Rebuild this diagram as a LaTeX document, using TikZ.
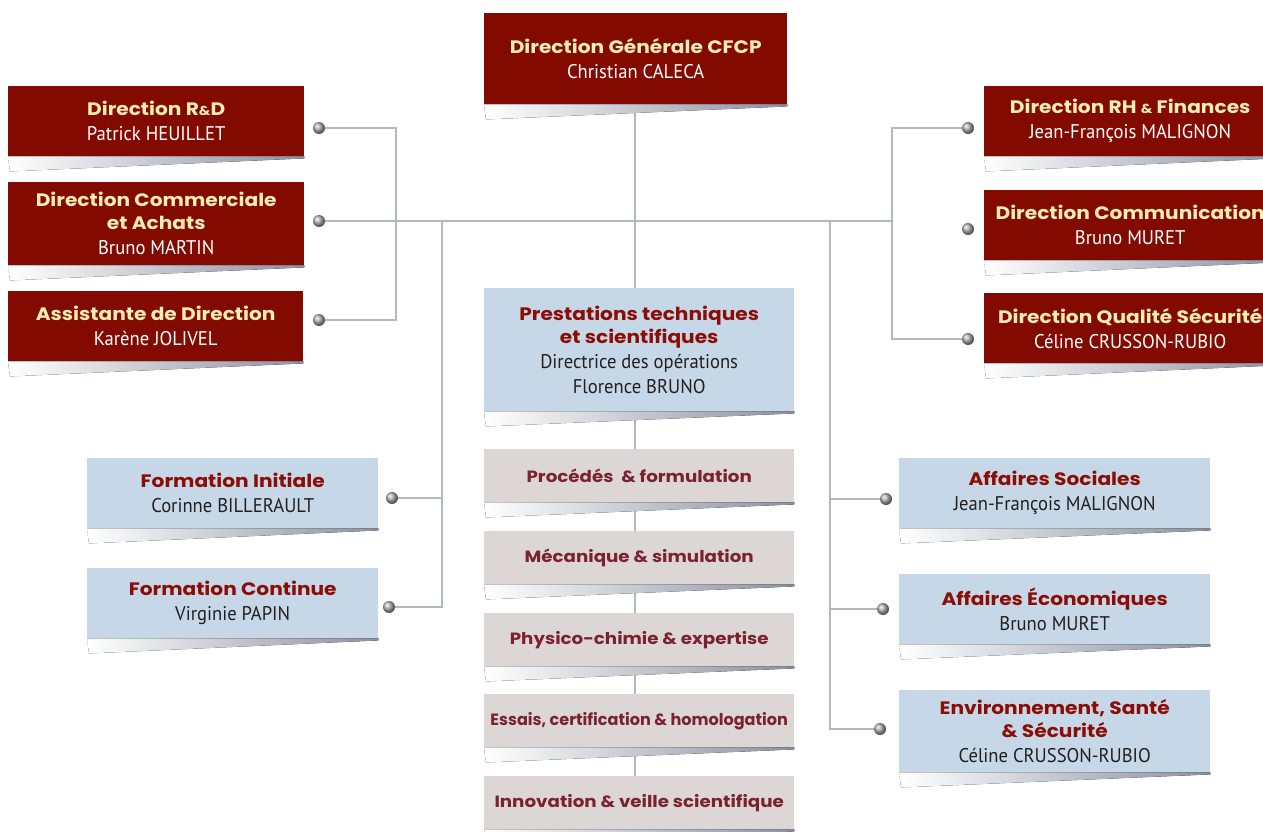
\documentclass[tikz,border=0pt]{standalone}
\usepackage{fontspec}
\usetikzlibrary{backgrounds,shadings}
\newfontfamily\headfont{Poppins}[FakeStretch=1.12]
\newfontfamily\namefont{PT Sans}[FakeStretch=0.94]
\definecolor{dred}{HTML}{820A00}
\definecolor{cream}{HTML}{FCEDB5}
\definecolor{lblue}{HTML}{C6D8E8}
\definecolor{lgrey}{HTML}{DCD6D4}
\definecolor{hred}{HTML}{8C0D06}
\definecolor{maroon}{HTML}{7A2230}
\definecolor{namedark}{HTML}{231F20}
\definecolor{lnc}{HTML}{B4B8BD}
\definecolor{shd}{HTML}{8C90A0}
\newcommand\hA[1]{{\headfont\bfseries\fontsize{18}{24}\selectfont\color{cream}#1}}
\newcommand\hB[1]{{\headfont\bfseries\fontsize{18}{24}\selectfont\color{hred}#1}}
\newcommand\nm[1]{{\namefont\fontsize{19.8}{26}\selectfont #1}}
\newcommand\amp{{\fontsize{13}{13}\selectfont\&}}
\newcommand\shadowunder[1]{\fill[left color=white, right color=shd] (#1.south west) -- (#1.south east) -- ([yshift=-2pt]#1.south east) -- ([yshift=-15pt,xshift=2pt]#1.south west) -- cycle;}
\begin{document}
\begin{tikzpicture}[x=1pt,y=-1pt,
  box/.style={anchor=north west, inner sep=0pt, align=center, font=\fontsize{16}{25}\selectfont},
  redbox/.style={box, fill=dred, text=white},
  bluebox/.style={box, fill=lblue, text=namedark},
  greybox/.style={box, fill=lgrey, text=maroon, minimum width=310, minimum height=53, font=\headfont\bfseries\fontsize{16.3}{25}\selectfont},
  dot/.style={circle, inner sep=0pt, minimum size=12pt, ball color=black!30},
  conn/.style={draw=lnc, line width=1.1pt}]
\useasboundingbox (0,0) rectangle (1263,831);
% boxes
\node[redbox, minimum width=303, minimum height=91] (g) at (484,13) {\hA{Direction Générale CFCP}\\\nm{Christian CALECA}};
\node[redbox, minimum width=296, minimum height=70] (rd) at (8,86) {\hA{Direction R\amp D}\\\nm{Patrick HEUILLET}};
\node[redbox, minimum width=296, minimum height=83] (com) at (8,182) {\hA{Direction Commerciale}\\[-2pt]\hA{et Achats}\\\nm{Bruno MARTIN}};
\node[redbox, minimum width=295, minimum height=70] (asd) at (8,291) {\hA{Assistante de Direction}\\\nm{Karène JOLIVEL}};
\node[redbox, minimum width=292, minimum height=70] (rh) at (984,86) {\hA{Direction RH \amp{} Finances}\\\nm{Jean-François MALIGNON}};
\node[redbox, minimum width=292, minimum height=70] (cmn) at (984,190) {\hA{Direction Communication}\\\nm{Bruno MURET}};
\node[redbox, minimum width=292, minimum height=70] (qs) at (984,293) {\hA{Direction Qualité Sécurité}\\\nm{Céline CRUSSON-RUBIO}};
\node[bluebox, minimum width=310, minimum height=123] (pts) at (484,288) {\hB{Prestations techniques}\\[-2pt]\hB{et scientifiques}\\\nm{Directrice des opérations}\\\nm{Florence BRUNO}};
\node[greybox] (proc) at (484,449) {Procédés\ \ \& formulation};
\node[greybox] (meca) at (484,531) {Mécanique \& simulation};
\node[greybox] (phys) at (484,613) {Physico-chimie \& expertise};
\node[greybox] (essai) at (484,694) {\scalebox{0.88}[1]{Essais, certification \& homologation}};
\node[greybox] (inno) at (484,776) {Innovation \& veille scientifique};
\node[bluebox, minimum width=291, minimum height=70] (fi) at (87,458) {\hB{Formation Initiale}\\\nm{Corinne BILLERAULT}};
\node[bluebox, minimum width=291, minimum height=70] (fc) at (87,568) {\hB{Formation Continue}\\\nm{Virginie PAPIN}};
\node[bluebox, minimum width=311, minimum height=70] (soc) at (899,458) {\hB{Affaires Sociales}\\\nm{Jean-François MALIGNON}};
\node[bluebox, minimum width=311, minimum height=70] (eco) at (899,574) {\hB{Affaires Économiques}\\\nm{Bruno MURET}};
\node[bluebox, minimum width=311, minimum height=82] (env) at (899,690) {\hB{Environnement, Santé}\\[-2pt]\hB{\& Sécurité}\\\nm{Céline CRUSSON-RUBIO}};
% shadows
\foreach \n in {g,rd,com,asd,rh,cmn,qs,pts,proc,meca,phys,essai,inno,fi,fc,soc,eco,env}{\shadowunder{\n}}
% dots
\node[dot] (d1) at (319,128) {};
\node[dot] (d2) at (319,221) {};
\node[dot] (d3) at (319,320) {};
\node[dot] (d4) at (968,128) {};
\node[dot] (d5) at (968,229) {};
\node[dot] (d6) at (968,339) {};
\node[dot] (d7) at (392,498) {};
\node[dot] (d8) at (389,607) {};
\node[dot] (d9) at (886,499) {};
\node[dot] (d10) at (883,609) {};
\node[dot] (d11) at (880,729) {};
\coordinate (xl1) at (396,0);
\coordinate (xr1) at (892,0);
\coordinate (xl2) at (442,0);
\coordinate (xr2) at (830,0);
\coordinate (top) at (635,104);
\coordinate (bot) at (635,776);
\begin{scope}[on background layer]
\draw[conn] (top) -- (bot);
\draw[conn] (d1) -- (d1 -| xl1) -- (d3 -| xl1) -- (d3);
\draw[conn] (d2) -- (d2 -| xr1);
\draw[conn] (d4) -- (d4 -| xr1) -- (d6 -| xr1) -- (d6);
\draw[conn] (d2 -| xl2) -- (d8 -| xl2) -- (d8);
\draw[conn] (d7) -- (d7 -| xl2);
\draw[conn] (d2 -| xr2) -- (d11 -| xr2) -- (d11);
\draw[conn] (d9) -- (d9 -| xr2);
\draw[conn] (d10) -- (d10 -| xr2);
\end{scope}
\end{tikzpicture}
\end{document}
